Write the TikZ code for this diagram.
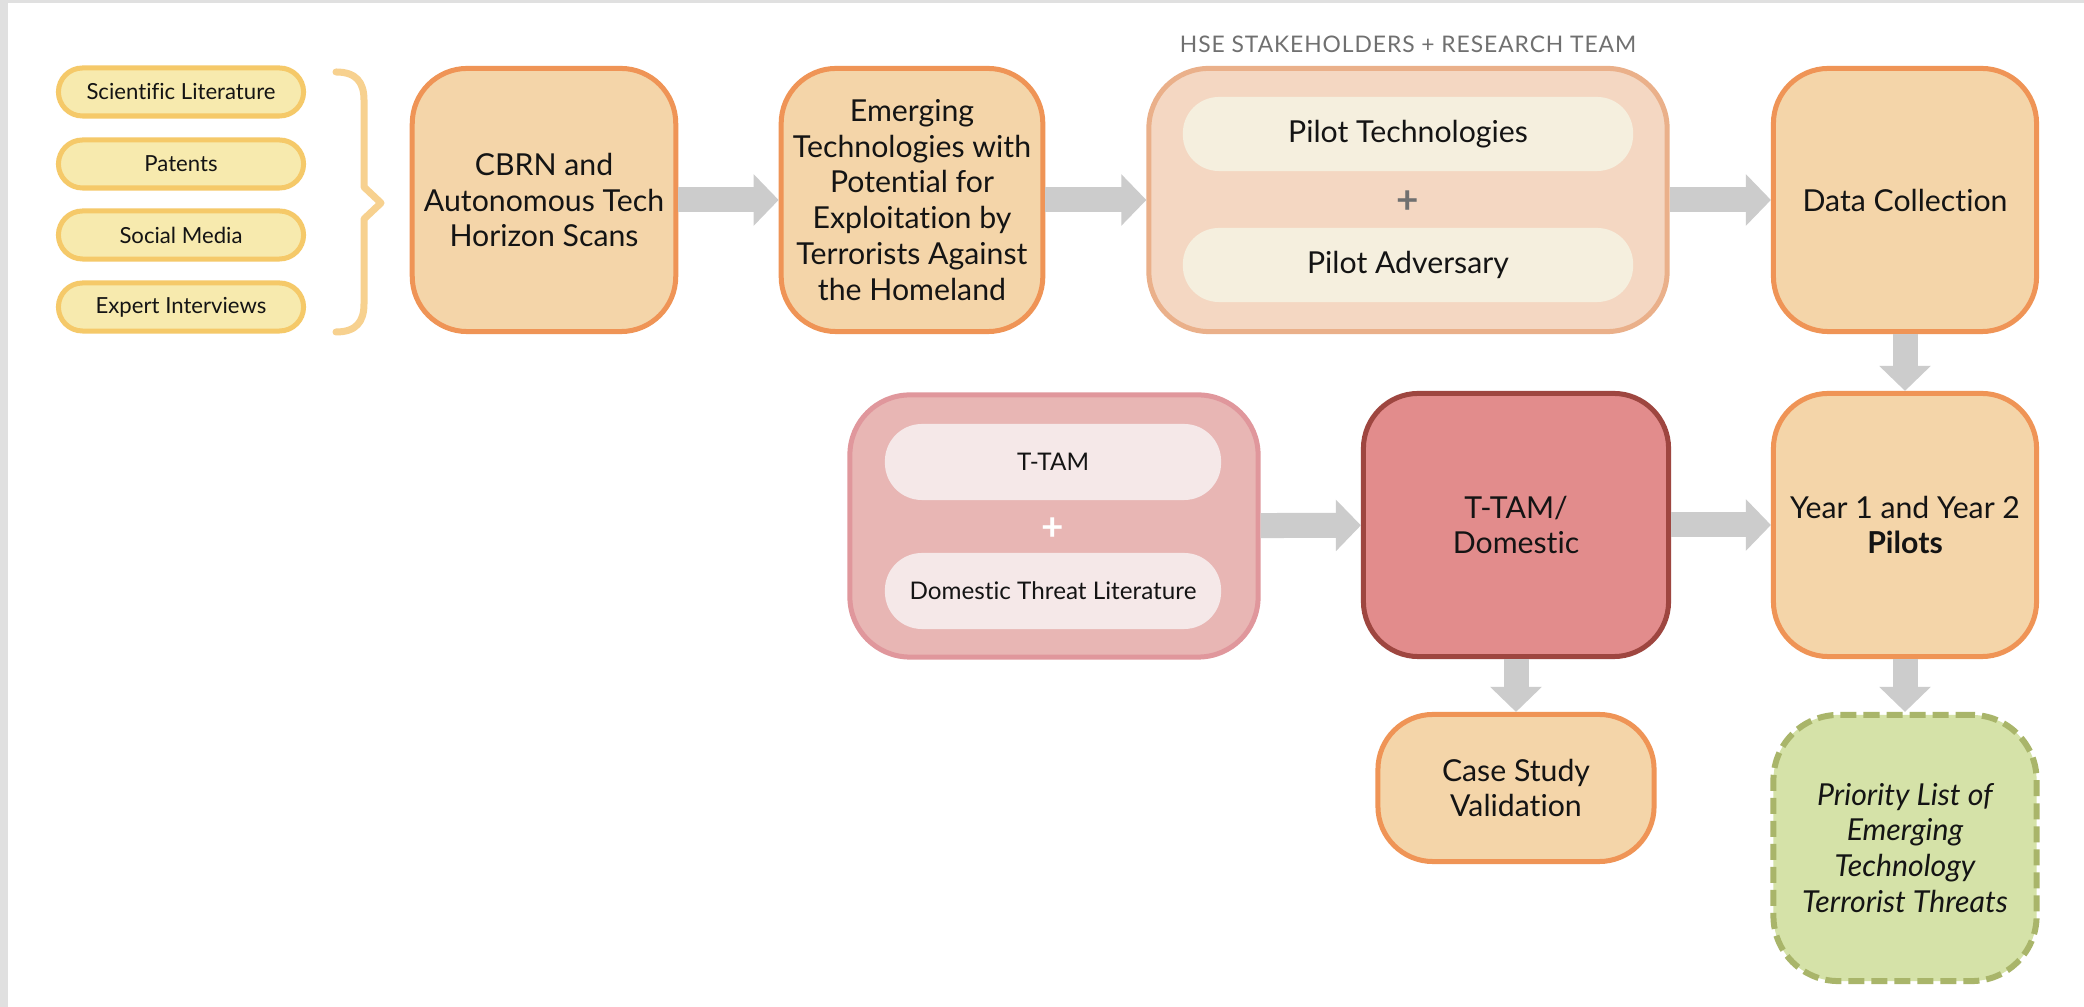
\documentclass[tikz,border=0pt]{standalone}
\usepackage{fontspec}
\setmainfont{Lato}[Ligatures=NoCommon]
\usetikzlibrary{arrows.meta,positioning}
\definecolor{srcfill}{HTML}{F7EAAE}
\definecolor{srcline}{HTML}{F5C969}
\definecolor{bracecol}{HTML}{F7D18F}
\definecolor{boxfill}{HTML}{F4D5A9}
\definecolor{boxline}{HTML}{EF9456}
\definecolor{teamfill}{HTML}{F4D7C2}
\definecolor{teamline}{HTML}{EAB08A}
\definecolor{teampillfill}{HTML}{F5EFDE}
\definecolor{threatfill}{HTML}{E8B6B4}
\definecolor{threatline}{HTML}{E0979C}
\definecolor{threatpillfill}{HTML}{F5E8E8}
\definecolor{domfill}{HTML}{E28C8C}
\definecolor{domline}{HTML}{9E4640}
\definecolor{prifill}{HTML}{D5E2A8}
\definecolor{priline}{HTML}{A9B56A}
\definecolor{flowgray}{HTML}{CCCCCC}
\definecolor{framegray}{HTML}{E0E0E0}
\definecolor{labelgray}{HTML}{707070}
\definecolor{ink}{HTML}{141414}
\newcommand{\bigtext}{\fontsize{8.6}{10.2}\selectfont}
\newcommand{\smalltext}{\fontsize{6.3}{7.5}\selectfont}

\begin{document}
\begin{tikzpicture}[x=0.01cm,y=-0.01cm,text=ink,
  src/.style={draw=srcline,fill=srcfill,line width=0.05cm,rounded corners=0.24cm,
    minimum width=2.45cm,minimum height=0.48cm,font=\smalltext},
  box/.style={draw=boxline,fill=boxfill,line width=0.05cm,rounded corners=0.55cm,
    minimum width=2.63cm,minimum height=2.63cm,align=center,font=\bigtext},
  team/.style={draw=teamline,fill=teamfill,line width=0.05cm,rounded corners=0.6cm,
    minimum width=5.18cm,minimum height=2.63cm},
  teampill/.style={fill=teampillfill,rounded corners=0.36cm,minimum width=4.5cm,
    minimum height=0.74cm,font=\bigtext},
  threat/.style={draw=threatline,fill=threatfill,line width=0.05cm,rounded corners=0.6cm,
    minimum width=4.08cm,minimum height=2.62cm},
  threatpill/.style={fill=threatpillfill,rounded corners=0.37cm,minimum width=3.36cm,
    minimum height=0.76cm,font=\fontsize{6.9}{8}\selectfont},
  plus/.style={font=\fontsize{11}{11}\selectfont\bfseries,inner sep=0pt},
  flow/.style={flowgray,line width=0.25cm,-{Triangle[width=0.5cm,length=0.25cm]}}]
  \useasboundingbox (0,0) rectangle (2084,1007);
  \fill[framegray] (0,0) rectangle (2084,1007);
  \fill[white] (8,3) rectangle (2084,1007);

  % sources
  \node[src] (sci) at (181,92) {Scientific Literature};
  \node[src] (pat) at (181,164) {Patents};
  \node[src] (soc) at (181,235) {Social Media};
  \node[src] (expi) at (181,307) {Expert Interviews};
  \draw[bracecol,line width=0.07cm,line cap=round,line join=round]
    (336,72) .. controls (356,72) and (364,82) .. (364,100) -- (364,187)
    -- (381,203) -- (364,219) -- (364,304)
    .. controls (364,322) and (356,332) .. (336,332);

  % top row
  \node[box] (scan) at (544,200) {CBRN and\\Autonomous Tech\\Horizon Scans};
  \node[box,minimum width=2.58cm] (emerg) at (912,200)
    {Emerging\\Technologies with\\Potential for\\Exploitation by\\Terrorists Against\\the Homeland};
  \node[team] (team) at (1408,200) {};
  \node[teampill] (ptech) at (1408,134) {Pilot Technologies};
  \node[plus,text=labelgray] (tplus) at (1408,202) {+};
  \node[teampill] (padv) at (1408,265) {Pilot Adversary};
  \node[text=labelgray,font=\fontsize{6.5}{7}\selectfont\addfontfeature{LetterSpace=4}]
    (teamlbl) at (1408,44) {HSE STAKEHOLDERS + RESEARCH TEAM};
  \node[box] (data) at (1905,200) {Data Collection};

  % middle row
  \node[threat] (threat) at (1054,526) {};
  \node[threatpill] (ttam) at (1053,462) {T-TAM};
  \node[plus,text=white] (wplus) at (1053,529) {+};
  \node[threatpill] (dlit) at (1053,591) {Domestic Threat Literature};
  \node[box,draw=domline,fill=domfill,minimum width=3.05cm] (ttd) at (1516,525) {T-TAM/\\Domestic};
  \node[box] (pilots) at (1905,525) {Year 1 and Year 2\\\textbf{Pilots}};

  % bottom row
  \node[box,minimum width=2.76cm,minimum height=1.47cm] (case) at (1516,788) {Case Study\\Validation};
  \node[box,draw=priline,fill=prifill,line width=0.06cm,dash pattern=on 0.16cm off 0.07cm,
    rounded corners=0.65cm,minimum height=2.66cm,font=\bigtext\itshape] (prio) at (1905,848)
    {Priority List of\\Emerging\\Technology\\Terrorist Threats};

  \draw[flow] (scan) -- (emerg);
  \draw[flow] (emerg) -- (team);
  \draw[flow] (team) -- (data);
  \draw[flow] (data) -- (pilots);
  \draw[flow] (pilots) -- (prio);
  \draw[flow] (threat) -- (ttd);
  \draw[flow] (ttd) -- (pilots);
  \draw[flow] (ttd) -- (case);
\end{tikzpicture}
\end{document}
